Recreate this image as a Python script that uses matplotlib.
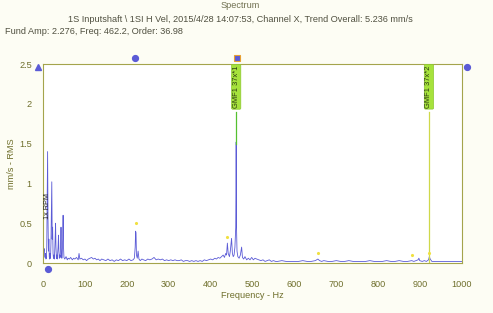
import matplotlib
matplotlib.use("Agg")
import matplotlib.pyplot as plt

plt.rcParams['font.family'] = ['Liberation Sans', 'DejaVu Sans']

freq = [0, 1, 2, 3, 4, 5, 6, 7, 8, 9, 10, 11, 12, 13, 14, 15, 16, 17, 18, 19,
        20, 21, 22, 23, 24, 25, 26, 27, 28, 29, 30, 31, 32, 33, 34, 35, 36, 37,
        38, 39, 40, 41, 42, 43, 44, 45, 46, 47, 48, 49, 50,
        52, 55, 58, 60, 63, 66, 70, 73, 76, 80, 84, 86, 88, 92, 96, 100, 104,
        108, 112, 116, 120, 124, 128, 132, 136, 140, 145, 150, 155, 160, 165,
        170, 175, 180, 185, 190, 195, 200, 205, 210, 215, 218, 220, 221, 222,
        223, 225, 227, 229, 232, 236, 240, 245, 250, 255, 260, 265, 270, 275,
        280, 285, 290, 295, 300, 305, 310, 315, 320, 325, 330, 335, 340, 345,
        350, 355, 360, 365, 370, 375, 380, 385, 390, 395, 400, 405, 410, 414,
        418, 422, 426, 430, 433, 436, 438, 440, 442, 445, 447, 450, 452, 454,
        456, 458, 460, 461, 462, 463, 465, 468, 471, 474, 476, 479, 482, 486,
        490, 494, 498, 502, 506, 510, 515, 520, 525, 530, 535, 540, 545, 550,
        555, 560, 570, 580, 590, 600, 610, 620, 630, 640, 650, 656, 660, 665,
        670, 680, 690, 700, 710, 720, 730, 740, 750, 760, 770, 780, 790, 800,
        810, 820, 830, 840, 850, 860, 870, 880, 885, 890, 895, 897, 899, 905,
        910, 915, 920, 922, 924, 928, 935, 945, 960, 975, 990, 1000]
amp = [0.22, 0.20, 0.15, 0.18, 0.10, 0.07, 0.12, 0.05, 0.06, 0.20, 0.75, 1.40,
       0.55, 0.15, 0.30, 0.08, 0.05, 0.12, 0.06, 0.25, 0.60, 1.02, 0.30, 0.45,
       0.12, 0.06, 0.10, 0.05, 0.15, 0.30, 0.50, 0.20, 0.06, 0.10, 0.05, 0.12,
       0.20, 0.35, 0.15, 0.06, 0.10, 0.07, 0.20, 0.45, 0.15, 0.06, 0.12, 0.30,
       0.60, 0.20, 0.07,
       0.05, 0.08, 0.04, 0.06, 0.05, 0.07, 0.04, 0.06, 0.05, 0.07, 0.04, 0.12,
       0.05, 0.06, 0.04, 0.05, 0.03, 0.05, 0.06, 0.07, 0.05, 0.06, 0.04, 0.05,
       0.03, 0.05, 0.04, 0.03, 0.05, 0.03, 0.04, 0.02, 0.04, 0.03, 0.05, 0.03,
       0.04, 0.03, 0.05, 0.03, 0.04, 0.06, 0.20, 0.40, 0.38, 0.10, 0.06, 0.15,
       0.05, 0.03, 0.05, 0.04, 0.03, 0.05, 0.04, 0.05, 0.07, 0.04, 0.05, 0.04,
       0.05, 0.03, 0.04, 0.03, 0.04, 0.03, 0.04, 0.03, 0.03, 0.04, 0.02, 0.03,
       0.03, 0.02, 0.03, 0.02, 0.03, 0.02, 0.03, 0.02, 0.04, 0.03, 0.04, 0.05,
       0.04, 0.06, 0.05, 0.07, 0.06, 0.08, 0.10, 0.07, 0.12, 0.10, 0.25, 0.12,
       0.08, 0.15, 0.31, 0.12, 0.08, 0.10, 0.20, 0.45, 1.52, 0.40, 0.15, 0.08,
       0.06, 0.10, 0.20, 0.07, 0.05, 0.08, 0.04, 0.06, 0.04, 0.07, 0.04, 0.06,
       0.05, 0.04, 0.03, 0.04, 0.02, 0.03, 0.04, 0.02, 0.03, 0.02, 0.02, 0.03,
       0.02, 0.02, 0.02, 0.02, 0.03, 0.02, 0.02, 0.03, 0.05, 0.03, 0.02, 0.03,
       0.02, 0.02, 0.03, 0.02, 0.02, 0.03, 0.02, 0.02, 0.02, 0.02, 0.03, 0.02,
       0.02, 0.02, 0.03, 0.02, 0.02, 0.03, 0.02, 0.02, 0.03, 0.02, 0.03, 0.04,
       0.06, 0.03, 0.02, 0.03, 0.02, 0.04, 0.08, 0.05, 0.02, 0.02, 0.02, 0.02,
       0.02, 0.02, 0.02]

gmf_freq = [461.0, 921.0]
gmf_labels = ['GMF1 37x*1', 'GMF1 37x*2']
harm_freq = [222, 440, 656, 880, 921]
harm_amp = [0.50, 0.33, 0.12, 0.10, 0.13]

titre = 'Spectrum'
sous_titre = '1S Inputshaft \\ 1SI H Vel, 2015/4/28 14:07:53, Channel X, Trend Overall: 5.236 mm/s'
info = 'Fund Amp: 2.276, Freq: 462.2, Order: 36.98'

txt = '#6f6f2c'
spine = '#a4a44c'
bleu = '#5b5bd6'

fig = plt.figure(figsize=(4.93, 3.13), dpi=100, facecolor='#fdfdf4')
ax = fig.add_axes([0.0872, 0.1597, 0.850, 0.6358], facecolor='white')

ax.plot(freq, amp, color=bleu, lw=0.6)

# lignes GMF et etiquettes
ax.plot([gmf_freq[0]] * 2, [1.9, 1.5], color='#55c030', lw=0.9)
ax.plot([gmf_freq[1]] * 2, [1.9, 0.0], color='#cfd84a', lw=0.9)
for f, lab in zip(gmf_freq, gmf_labels):
    ax.text(f, 2.48, lab, rotation=90, ha='center', va='top', fontsize=5.4,
            color='#2a3a10',
            bbox=dict(boxstyle='round,pad=0.15', fc='#a6e23c', ec='#8cc830', lw=0.5))

ax.plot(harm_freq, harm_amp, ls='none', marker='.', ms=2.5, color='#f0e040')
ax.text(10, 0.72, '1x RPM', rotation=90, ha='center', va='center', fontsize=5.2, color='#222222')

# curseurs
ax.plot([219.6], [2.575], 'o', ms=4.2, color=bleu, clip_on=False)
ax.plot([463], [2.575], 's', ms=4.5, mfc=bleu, mec='#e8a030', mew=0.8, clip_on=False)
ax.plot([-12], [2.46], '^', ms=4.5, color=bleu, clip_on=False)
ax.plot([1012], [2.46], 'o', ms=4.2, color=bleu, clip_on=False)
ax.plot([12], [-0.075], 'o', ms=4.2, color=bleu, clip_on=False)

ax.set_xlim(0, 1000)
ax.set_ylim(0, 2.5)
ax.set_xticks(range(0, 1001, 100))
ax.set_yticks([0, 0.5, 1, 1.5, 2, 2.5])
ax.set_yticklabels(['0', '0.5', '1', '1.5', '2', '2.5'])
ax.tick_params(length=0, labelsize=6.6, labelcolor=txt)
ax.tick_params(axis='x', pad=12)
ax.tick_params(axis='y', pad=8)
for s in ax.spines.values():
    s.set_color(spine)
    s.set_linewidth(0.8)

ax.set_xlabel('Frequency - Hz', fontsize=6.6, color=txt, labelpad=2)
ax.set_ylabel('mm/s - RMS', fontsize=6.6, color=txt, labelpad=2)

fig.text(0.487, 0.981, titre, ha='center', va='center', fontsize=6.6, color='#707050')
fig.text(0.487, 0.939, sous_titre, ha='center', va='center', fontsize=6.6, color='#505040')
fig.text(0.010, 0.898, info, ha='left', va='center', fontsize=6.6, color='#505040')

fig.savefig('out.png', dpi=100, facecolor=fig.get_facecolor())
